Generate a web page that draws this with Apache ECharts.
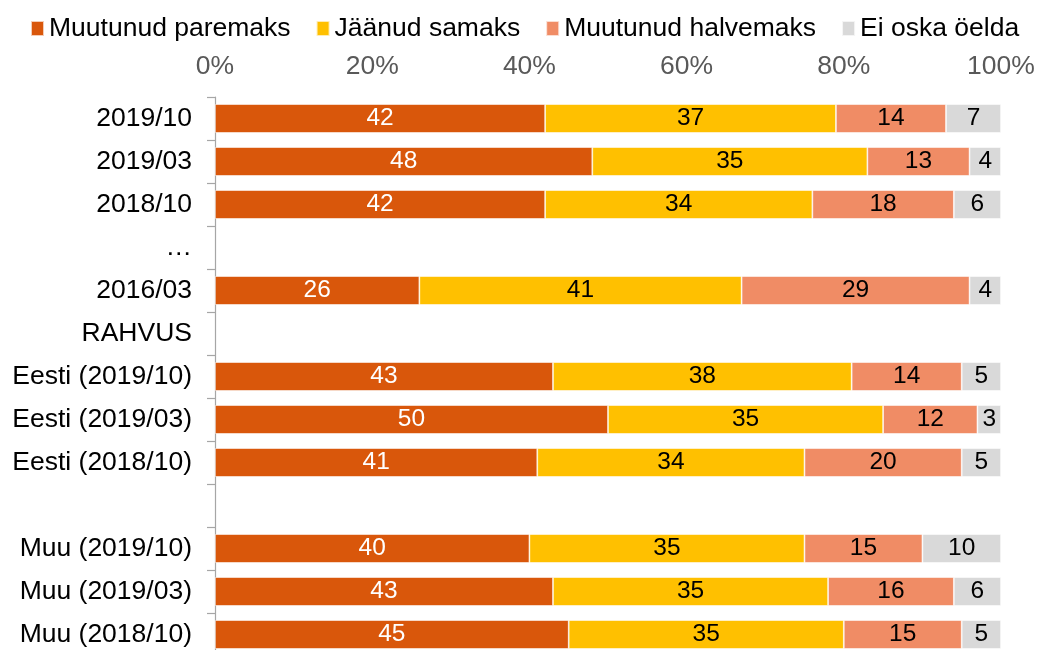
<!DOCTYPE html>
<html>
<head>
<meta charset="utf-8">
<script src="https://cdn.jsdelivr.net/npm/echarts@6/dist/echarts.min.js"></script>
<style>
  html, body { margin: 0; padding: 0; background: #fff; }
  #chart { width: 1040px; height: 650px; }
</style>
</head>
<body>
<div id="chart"></div>
<script>
// andmed
const categories = ['2019/10', '2019/03', '2018/10', '…', '2016/03', 'RAHVUS',
    'Eesti (2019/10)', 'Eesti (2019/03)', 'Eesti (2018/10)', '',
    'Muu (2019/10)', 'Muu (2019/03)', 'Muu (2018/10)'];
const seriesNames = ['Muutunud paremaks', 'Jäänud samaks', 'Muutunud halvemaks', 'Ei oska öelda'];
const better   = [42, 48, 42, null, 26, null, 43, 50, 41, null, 40, 43, 45];
const same     = [37, 35, 34, null, 41, null, 38, 35, 34, null, 35, 35, 35];
const worse    = [14, 13, 18, null, 29, null, 14, 12, 20, null, 15, 16, 15];
const dontKnow = [7, 4, 6, null, 4, null, 5, 3, 5, null, 10, 6, 5];
const xTicks = [0, 20, 40, 60, 80, 100];

const colors = ['#D9570B', '#FFC000', '#F08C65', '#D9D9D9'];
const labelColors = ['#fff', '#000', '#000', '#000'];
const font = '"Liberation Sans", Arial, sans-serif';

const chart = echarts.init(document.getElementById('chart'), null, { renderer: 'canvas' });

const makeSeries = (name, data, i) => ({
    name: name,
    type: 'bar',
    stack: 'total',
    data: data,
    barCategoryGap: '33%',
    itemStyle: { color: colors[i], borderColor: 'rgba(255,255,255,0.7)', borderWidth: 0.8 },
    label: {
        show: true,
        position: 'inside',
        color: labelColors[i],
        fontSize: 24.5,
        fontFamily: font
    },
    emphasis: { disabled: true }
});

chart.setOption({
    animation: false,
    textStyle: { fontFamily: font },
    legend: {
        left: 25,
        top: 10,
        icon: 'rect',
        itemWidth: 13,
        itemHeight: 15,
        itemGap: 25,
        textStyle: { fontSize: 26.5, color: '#000', fontFamily: font },
        data: seriesNames
    },
    grid: {
        left: 215,
        top: 97,
        width: 786,
        height: 559,
        containLabel: false,
        outerBoundsMode: 'none'
    },
    xAxis: {
        type: 'value',
        position: 'top',
        min: xTicks[0],
        max: xTicks[xTicks.length - 1],
        interval: xTicks[1] - xTicks[0],
        axisLine: { show: false },
        axisTick: { show: false },
        splitLine: { show: false },
        axisLabel: {
            formatter: '{value}%',
            color: '#595959',
            fontSize: 26.5,
            margin: 17,
            fontFamily: font
        }
    },
    yAxis: {
        type: 'category',
        inverse: true,
        data: categories,
        axisLine: { show: true, lineStyle: { color: '#A6A6A6', width: 1.2 } },
        axisTick: { show: true, length: 8, lineStyle: { color: '#A6A6A6', width: 1.2 } },
        axisLabel: {
            color: '#000',
            fontSize: 26.5,
            margin: 23,
            fontFamily: font
        }
    },
    series: [
        makeSeries(seriesNames[0], better, 0),
        makeSeries(seriesNames[1], same, 1),
        makeSeries(seriesNames[2], worse, 2),
        makeSeries(seriesNames[3], dontKnow, 3)
    ]
});
</script>
</body>
</html>
